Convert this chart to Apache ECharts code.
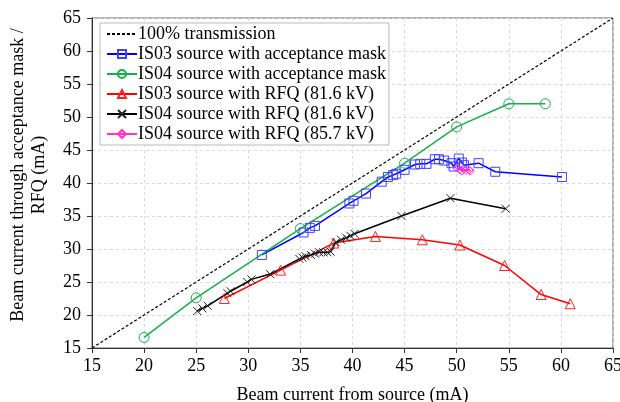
<!DOCTYPE html>
<html><head><meta charset="utf-8">
<script src="https://cdn.jsdelivr.net/npm/echarts@6/dist/echarts.min.js"></script>
<style>html,body{margin:0;padding:0;background:#fff}#c{width:620px;height:402px}</style>
</head><body><div id="c"></div>
<script>
var seriesNames = ["100% transmission","IS03 source with acceptance mask","IS04 source with acceptance mask","IS03 source with RFQ (81.6 kV)","IS04 source with RFQ (81.6 kV)","IS04 source with RFQ (85.7 kV)"];
var xTicks = [15,20,25,30,35,40,45,50,55,60,65];
var ideal = [[15,15],[65,65]];
var is03Mask = [[31.3,29.1],[35.3,32.5],[35.9,33.2],[36.4,33.5],[39.7,36.9],[40.1,37.3],[41.3,38.4],[42.8,40.2],[43.4,40.9],[43.9,41.2],[44.2,41.4],[45.0,42.0],[46.0,42.8],[46.5,42.9],[47.1,42.9],[47.9,43.6],[48.3,43.6],[48.8,43.4],[49.5,43.0],[49.7,42.5],[50.2,43.7],[50.5,43.1],[50.7,42.7],[52.1,43.0],[53.7,41.7],[60.1,40.9]];
var is04Mask = [[20.0,16.6],[25.0,22.6],[35.0,33.1],[45.0,43.0],[50.0,48.5],[55.0,52.0],[58.5,52.0]];
var is03Rfq = [[27.7,22.5],[33.1,26.8],[38.2,30.9],[42.2,31.9],[46.7,31.4],[50.3,30.6],[54.6,27.5],[58.1,23.1],[60.9,21.7]];
var is04Rfq816 = [[25.1,20.6],[25.6,21.0],[26.1,21.4],[28.0,23.3],[28.3,23.6],[29.9,25.0],[30.3,25.4],[32.1,26.2],[34.9,28.5],[35.2,28.7],[35.5,28.9],[36.0,29.1],[36.4,29.3],[36.8,29.5],[37.2,29.5],[37.6,29.5],[37.9,29.6],[38.4,31.0],[38.9,31.4],[39.4,31.7],[39.8,32.0],[40.2,32.3],[44.7,35.0],[49.4,37.7],[54.7,36.1]];
var is04Rfq857 = [[50.0,42.3],[50.3,42.0],[50.6,42.2],[50.5,41.8],[50.9,41.9],[51.2,42.0],[51.3,41.8]];

var font = "'Liberation Serif','Times New Roman',serif";
var chart = echarts.init(document.getElementById('c'), null, {renderer:'canvas'});
var cross = 'path://M0,0L10,10M10,0L0,10';
function mk(name, data, color, symbol, size, extra){
  var s = {name:name, type:'line', data:data, symbol:symbol, symbolSize:size, showSymbol:true,
    lineStyle:{color:color, width:1.5}, itemStyle:{color:'#fff', borderColor:color, borderWidth:1},
    animation:false, z:3};
  if (extra) for (var k in extra) s[k]=extra[k];
  return s;
}
var option = {
  animation:false,
  backgroundColor:'#fff',
  grid:{left:92, right:7, top:18, bottom:54, show:true, borderColor:'#666', borderWidth:1, containLabel:false, outerBoundsMode:'none'},
  xAxis:{type:'value', min:15, max:65, interval:5,
    name:'Beam current from source (mA)', nameLocation:'middle', nameGap:38,
    nameTextStyle:{fontFamily:font, fontSize:18, color:'#000'},
    axisLine:{lineStyle:{color:'#333'}}, axisTick:{show:true, length:5, lineStyle:{color:'#333'}},
    axisLabel:{fontFamily:font, fontSize:18, color:'#000', margin:9,
      formatter:function(v){return xTicks.indexOf(v)>=0?String(v):'';}},
    splitLine:{show:true, lineStyle:{color:'#d9d9d9', type:[3,3]}}},
  yAxis:{type:'value', min:15, max:65, interval:5,
    name:'Beam current through acceptance mask /\nRFQ (mA)', nameLocation:'middle', nameGap:42, nameRotate:90,
    nameTextStyle:{fontFamily:font, fontSize:18, color:'#000', lineHeight:21, padding:[0,0,0,16]},
    axisLine:{show:true, lineStyle:{color:'#333'}}, axisTick:{show:true, length:5, lineStyle:{color:'#333'}},
    axisLabel:{fontFamily:font, fontSize:18, color:'#000', margin:11},
    splitLine:{show:true, lineStyle:{color:'#d9d9d9', type:[3,3]}}},
  legend:{orient:'vertical', left:100, top:23, backgroundColor:'#fff', borderColor:'#bbb', borderWidth:1,
    padding:[2,3,2,6], itemGap:2, itemWidth:30, itemHeight:10,
    textStyle:{fontFamily:font, fontSize:18, color:'#000', lineHeight:17, padding:[0,0,0,-4]},
    data:seriesNames},
  series:[
    mk(seriesNames[0], ideal, '#000', 'circle', 0.01, {lineStyle:{color:'#000', width:1.2, type:[3,2]}, itemStyle:{color:'rgba(0,0,0,0)', borderColor:'rgba(0,0,0,0)', borderWidth:0}}),
    mk(seriesNames[1], is03Mask, '#0000ff', 'rect', 9, {itemStyle:{color:'rgba(255,255,255,0)', borderColor:'#4040ff', borderWidth:1}}),
    mk(seriesNames[2], is04Mask, '#14b04a', 'circle', 10, {itemStyle:{color:'rgba(255,255,255,0)', borderColor:'#14b04a', borderWidth:1}}),
    mk(seriesNames[3], is03Rfq, '#ff0000', 'triangle', 10, {itemStyle:{color:'rgba(255,255,255,0)', borderColor:'#ff2020', borderWidth:1}}),
    mk(seriesNames[4], is04Rfq816, '#000000', cross, 8, {itemStyle:{color:'#000', borderColor:'#222', borderWidth:1}}),
    mk(seriesNames[5], is04Rfq857, '#ff33cc', 'diamond', 8, {itemStyle:{color:'rgba(255,255,255,0)', borderColor:'#ff33cc', borderWidth:1}})
  ]
};
chart.setOption(option);
</script></body></html>
